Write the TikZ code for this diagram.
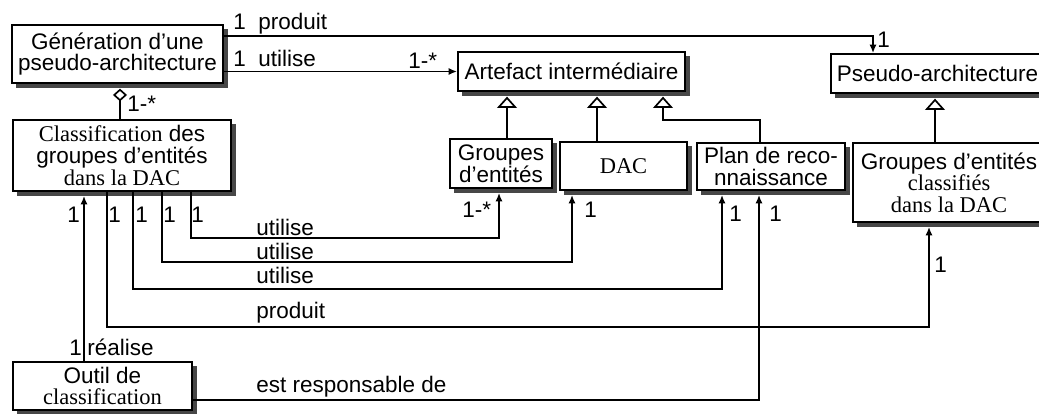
\documentclass[tikz,border=0pt]{standalone}
\usepackage{fontspec}
\setmainfont{Liberation Sans}
\newfontfamily\tms{Liberation Serif}
\usepackage{tikz}
\usetikzlibrary{arrows.meta, backgrounds, calc}

\begin{document}
\begin{tikzpicture}[x=0.025cm, y=-0.025cm,
        font=\fontsize{16}{15.4}\selectfont,
        box/.style={draw, line width=1.2pt, fill=white, align=center, inner sep=0pt},
        boxshadow/.style={fill=black!72},
        link/.style={line width=1.2pt},
        arr/.style={link, -{Latex[length=6pt, width=5pt]}},
        inh/.style={link, shorten >=0.12cm, -{Triangle[open, length=8pt, width=14pt]}},
        agg/.style={link, shorten >=0.12cm, -{Diamond[open, length=9pt, width=10pt]}},
        lbl/.style={anchor=base west, inner sep=0pt}]

        \useasboundingbox (0,0) rectangle (1039,414);

        % Classes
        \node[box, minimum width=5.275cm, minimum height=1.45cm] (gen) at (117.5,54)
            {Génération d'une\\pseudo-architecture};
        \node[box, minimum width=5.45cm, minimum height=1.775cm] (cls) at (122,155.5)
            {{\tms Classification} des\\groupes d'entités\\{\tms dans la DAC}};
        \node[box, minimum width=5.675cm, minimum height=0.975cm] (art) at (571.5,71.5)
            {Artefact intermédiaire};
        \node[box, minimum width=2.55cm, minimum height=1.225cm] (grp) at (501,163.5)
            {Groupes\\d'entités};
        \node[box, minimum width=3.175cm, minimum height=1.2cm] (dac) at (623.5,166)
            {\tms DAC};
        \node[box, minimum width=3.7cm, minimum height=1.175cm] (plan) at (771,166.5)
            {Plan de reco-\\nnaissance};
        \node[box, anchor=west, text width=5.6cm, inner xsep=0.15cm, align=left,
            minimum height=0.975cm] (pseudo) at (830,73.5) {Pseudo-architecture};
        \node[box, minimum width=4.8cm, minimum height=1.975cm] (gcl) at (949,182.5)
            {Groupes d'entités\\{\tms classifiés}\\{\tms dans la DAC}};
        \node[box, minimum width=4.475cm, minimum height=1.2cm] (outil) at (102.5,386)
            {Outil de\\{\tms classification}};

        % Shadows
        \begin{scope}[on background layer]
            \foreach \bx in {gen,cls,art,grp,dac,plan,pseudo,gcl,outil}
                \fill[boxshadow] ($(\bx.north west)+(4.5,4.5)$) rectangle ($(\bx.south east)+(4.5,4.5)$);
        \end{scope}

        % Top links
        \draw[arr] ($(gen.east)+(0,-18)$) -| ($(pseudo.north west)+(43,0)$);
        \draw[arr] (gen.east |- art.west) -- (art.west);
        \draw[agg] (cls.north -| 120,0) -- (gen.south -| 120,0);

        % Inheritance
        \draw[inh] (grp.north -| 507,0) -- (art.south -| 507,0);
        \draw[inh] (dac.north -| 597,0) -- (art.south -| 597,0);
        \draw[inh] (plan.north -| 760,0) -- (760,120) -| (art.south -| 663,0);
        \draw[inh] (gcl.north -| 935,0) -- (pseudo.south -| 935,0);

        % Links below the classification
        \draw[arr, shorten >=0.1cm] (cls.south -| 191,0) -- (191,238) -| (grp.south -| 499,0);
        \draw[arr, shorten >=0.1cm] (cls.south -| 162,0) -- (162,262) -| (dac.south -| 572,0);
        \draw[arr, shorten >=0.1cm] (cls.south -| 133,0) -- (133,289) -| (plan.south -| 722,0);
        \draw[arr, shorten >=0.1cm] (cls.south -| 107,0) -- (107,327) -| (gcl.south -| 929,0);
        \draw[arr, shorten >=0.1cm] (outil.north -| 84,0) -- (cls.south -| 84,0);
        \draw[arr, shorten >=0.1cm] (outil.east |- 0,400) -| (plan.south -| 759,0);

        % Labels
        \node[lbl] (m1) at (233,29) {1~~produit};
        \node[lbl] (m2) at (877,48) {1};
        \node[lbl] (m3) at (233,66) {1~~utilise};
        \node[lbl] (m4) at (408,68) {1-*};
        \node[lbl] (m5) at (127,111) {1-*};
        \node[lbl] (m6) at (67,222) {1};
        \node[lbl] (m7) at (108,222) {1};
        \node[lbl] (m8) at (135,222) {1};
        \node[lbl] (m9) at (163,222) {1};
        \node[lbl] (m10) at (191,222) {1};
        \node[lbl] (m11) at (256,235) {utilise};
        \node[lbl] (m12) at (256,259) {utilise};
        \node[lbl] (m13) at (256,283) {utilise};
        \node[lbl] (m14) at (256,318) {produit};
        \node[lbl] (m15) at (462,217) {1-*};
        \node[lbl] (m16) at (584,217) {1};
        \node[lbl] (m17) at (729,221) {1};
        \node[lbl] (m18) at (769,221) {1};
        \node[lbl] (m19) at (934,272) {1};
        \node[lbl] (m20) at (69,355) {1};
        \node[lbl] (m21) at (87,355) {réalise};
        \node[lbl] (m22) at (256,392) {est responsable de};
\end{tikzpicture}
\end{document}
